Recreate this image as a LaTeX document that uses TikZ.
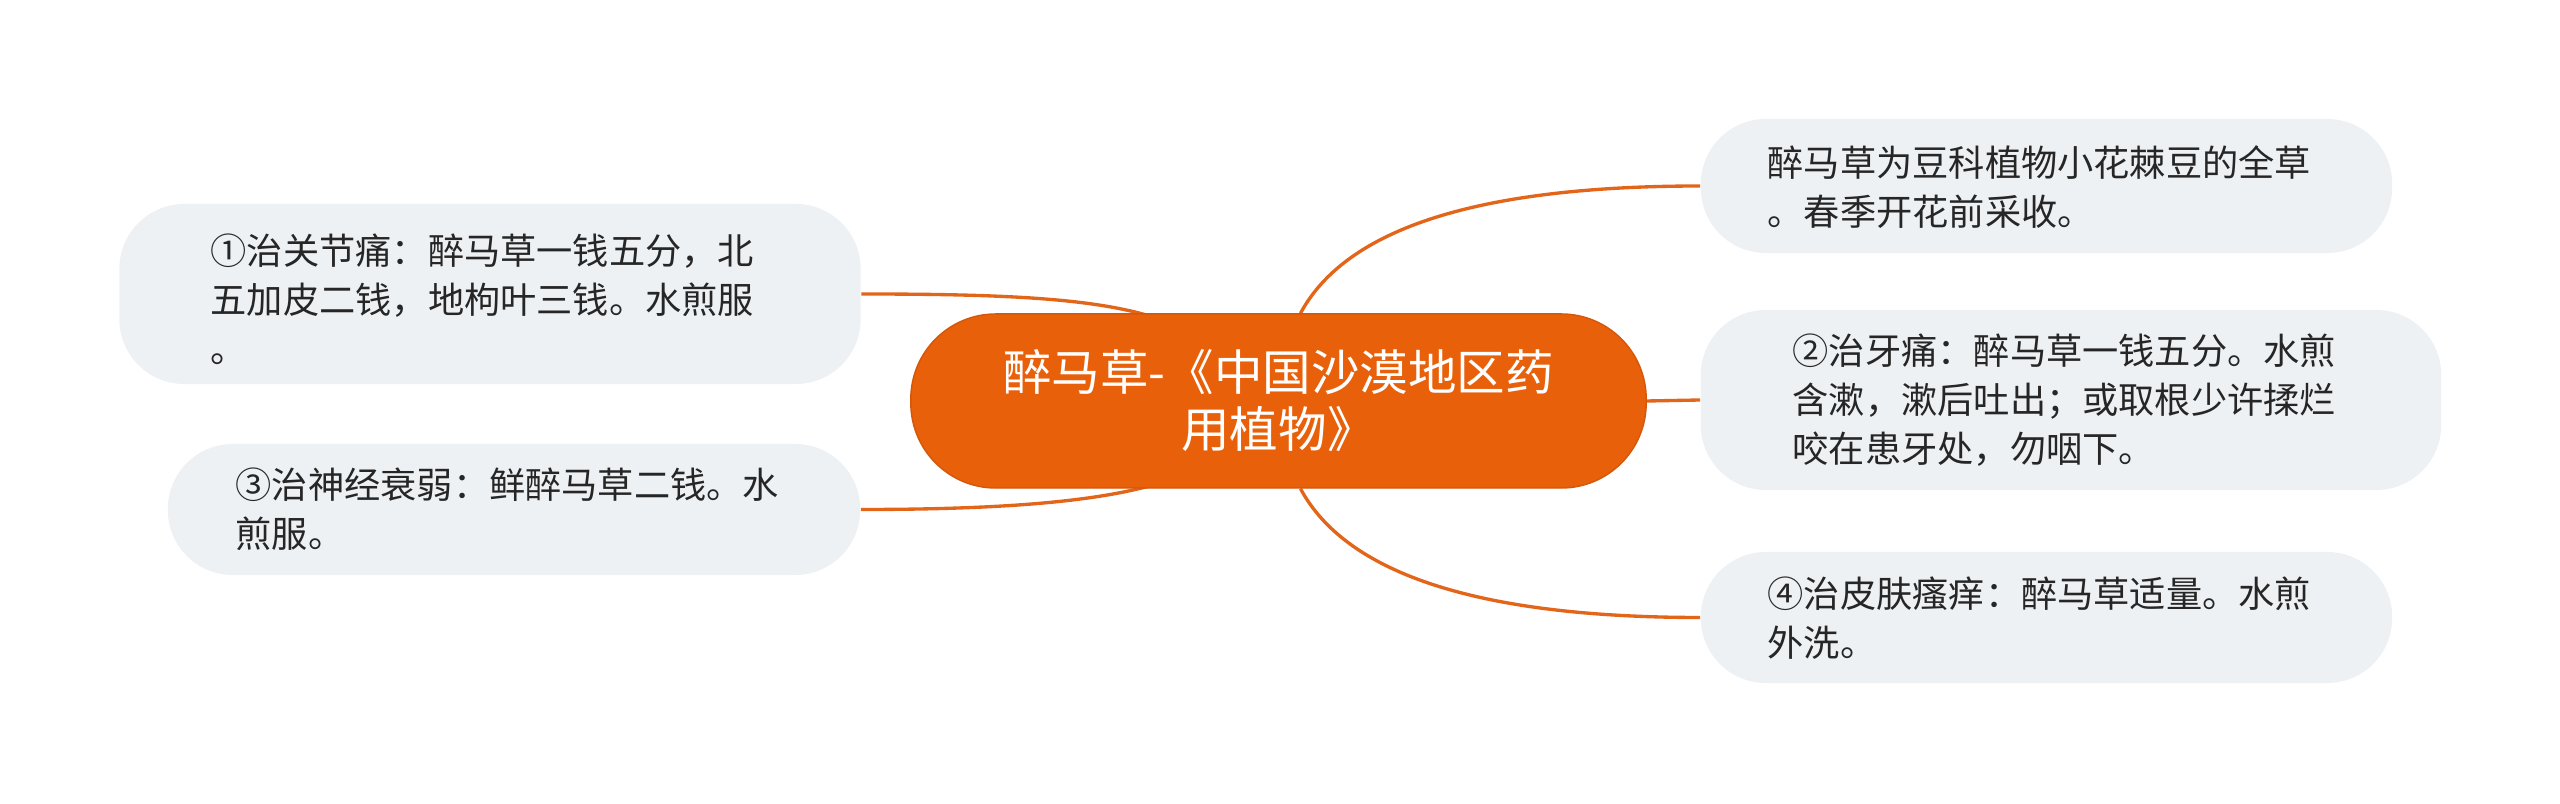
\documentclass[tikz,border=0pt]{standalone}
\usepackage{fontspec}
\newfontfamily\cjk{Noto Sans CJK SC}
\usetikzlibrary{calc,backgrounds}
\definecolor{orng}{HTML}{E8600A}
\definecolor{orngd}{HTML}{D4570A}
\definecolor{linkc}{HTML}{E2651A}
\definecolor{boxfill}{HTML}{EEF1F4}
\definecolor{txt}{HTML}{262626}
\begin{document}
\begin{tikzpicture}[x=0.01cm,y=-0.01cm,
  box/.style={fill=boxfill, draw=none, rounded corners=0.65cm, inner sep=0pt},
  txtnode/.style={anchor=west, inner sep=0pt, align=left, text=txt,
    font=\cjk\fontsize{10.3pt}{13.95pt}\selectfont},
  central/.style={fill=orng, draw=orngd, line width=0.4pt, rounded corners=0.85cm,
    minimum width=7.35cm, minimum height=1.74cm, inner sep=0pt, align=center,
    text=white, font=\cjk\fontsize{13.8pt}{16.2pt}\selectfont},
  conn/.style={draw=linkc, line width=0.95pt}]
\useasboundingbox (0,0) rectangle (2560,804);
% boxes
\node[box, minimum width=7.41cm, minimum height=1.80cm] (l1) at (490,294) {};
\node[box, minimum width=6.92cm, minimum height=1.31cm] (l3) at (514,509.5) {};
\node[box, minimum width=6.91cm, minimum height=1.34cm] (r1) at (2046.5,186) {};
\node[box, minimum width=7.40cm, minimum height=1.80cm] (r2) at (2071,400) {};
\node[box, minimum width=6.91cm, minimum height=1.31cm] (r3) at (2046.5,617.5) {};
% texts
\node[txtnode] (t1) at (210,299) {①治关节痛：醉马草一钱五分，北\\五加皮二钱，地枸叶三钱。水煎服\\。};
\node[txtnode] (t3) at (235,509.5) {③治神经衰弱：鲜醉马草二钱。水\\煎服。};
\node[txtnode] (u1) at (1767,187) {醉马草为豆科植物小花棘豆的全草\\。春季开花前采收。};
\node[txtnode] (u2) at (1792,400) {②治牙痛：醉马草一钱五分。水煎\\含漱，漱后吐出；或取根少许揉烂\\咬在患牙处，勿咽下。};
\node[txtnode] (u3) at (1767,618) {④治皮肤瘙痒：醉马草适量。水煎\\外洗。};
% central
\node[central] (c) at (1278.5,401) {醉马草-《中国沙漠地区药\\用植物》};
% connectors
\begin{scope}[on background layer]
\draw[conn] ($(c.north)+(22,0)$) .. controls (1340,240) and (1450,186) .. (r1.west);
\draw[conn] (c.east) -- (r2.west);
\draw[conn] ($(c.south)+(22,0)$) .. controls (1340,562) and (1450,617.5) .. (r3.west);
\draw[conn] (l1.east) .. controls (1000,294) and (1090,298) .. ($(c.north)+(-128,3)$);
\draw[conn] (l3.east) .. controls (1000,509.5) and (1090,502) .. ($(c.south)+(-128,-3)$);
\end{scope}
\end{tikzpicture}
\end{document}
